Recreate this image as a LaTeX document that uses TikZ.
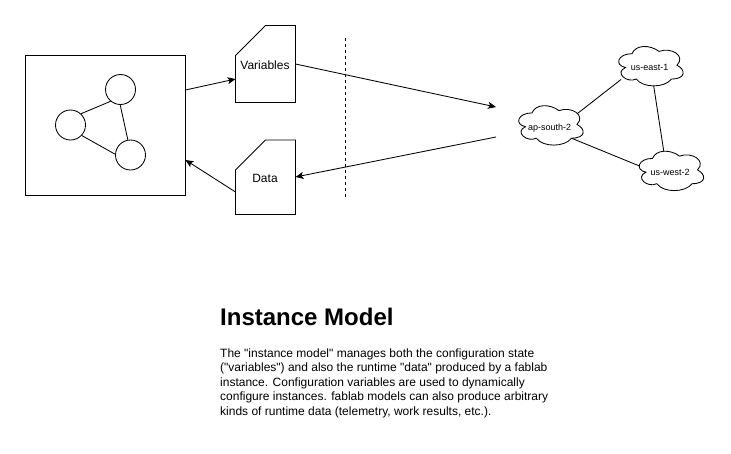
\documentclass[tikz,border=0pt]{standalone}
\usepackage{fontspec}
\setmainfont{Liberation Sans}[Ligatures=TeXOff]
\usetikzlibrary{arrows.meta,calc}
\tikzset{
  link/.style={draw=black,line width=0.85pt},
  flow/.style={link,-{Stealth[length=8pt,width=7pt,inset=2pt]}},
  frame/.style={draw=black,fill=white,line width=0.85pt},
  peer/.style={circle,draw=black,fill=white,line width=0.85pt,minimum size=30pt,inner sep=0pt},
  dochead/.style={font=\fontsize{12}{14}\selectfont,inner sep=0pt},
  cloudlabel/.style={font=\fontsize{9}{11}\selectfont,inner sep=0pt,anchor=base},
}
% \regioncloud{name}{origin x}{origin y}{label x}{label baseline y}{label}
\newcommand{\regioncloud}[6]{%
  \begin{scope}[shift={(#2,#3)},x=72pt,y=-46pt]
    \draw[frame] (-0.25,-0.25)
      .. controls (-0.45,-0.25) and (-0.5,0) .. (-0.34,0.05)
      .. controls (-0.5,0.16) and (-0.32,0.4) .. (-0.19,0.3)
      .. controls (-0.1,0.5) and (0.2,0.5) .. (0.3,0.3)
      .. controls (0.5,0.3) and (0.5,0.1) .. (0.375,0)
      .. controls (0.5,-0.2) and (0.3,-0.4) .. (0.125,-0.3)
      .. controls (0,-0.45) and (-0.2,-0.45) .. (-0.25,-0.25) -- cycle;
  \end{scope}
  \node[cloudlabel] (#1) at (#4,#5) {#6};%
}
\begin{document}
\begin{tikzpicture}[x=1pt,y=-1pt]
\useasboundingbox[fill=white] (0,0) rectangle (731,453);

% instance box
\node[frame,minimum width=160pt,minimum height=140pt,inner sep=0pt] (instance) at (105.5,125) {};
\node[peer] (pa) at (120.5,89.5) {};
\node[peer] (pb) at (70.5,125) {};
\node[peer] (pc) at (130.5,155) {};
\draw[link] (pa.230) -- (pb.47);
\draw[link] (pa.269) -- (pc.100);
\draw[link] (pb.317) -- (pc.177);

% documents
\draw[frame] (265.5,25.5) -- (295.5,25.5) -- (295.5,102.5) -- (235.5,102.5) -- (235.5,55.5) -- cycle;
\node[dochead] (variables) at (265,65) {Variables};
\draw[frame] (265.5,140) -- (295.5,140) -- (295.5,214.5) -- (235.5,214.5) -- (235.5,170) -- cycle;
\node[dochead] (data) at (265,178.5) {Data};
\coordinate (varin) at (235.5,79);
\coordinate (varout) at (295.5,64);
\coordinate (datain) at (295.5,177);
\coordinate (dataout) at (235.5,192);
\coordinate (boxout) at (185.5,90);
\coordinate (boxin) at (185.5,160);
\coordinate (netin) at (496,107);
\coordinate (netout) at (496,137);

% divider
\coordinate (divtop) at (345.5,38);
\coordinate (divbot) at (345.5,198);
\draw[black,line width=0.85pt,dash pattern=on 3pt off 3pt] (divtop) -- (divbot);

% flows
\draw[flow] (boxout) -- (varin);
\draw[flow] (varout) -- (netin);
\draw[flow] (netout) -- (datain);
\draw[flow] (dataout) -- (boxin);

% network
\coordinate (c1) at (551,126);
\coordinate (c2) at (651,66.5);
\coordinate (c3) at (671.5,172);
\draw[link] ($(c1)+(22,-9)$) -- ($(c2)+(-30,13)$);
\draw[link] ($(c2)+(2,15)$) -- ($(c3)+(-7,-16)$);
\draw[link] ($(c1)+(20,12)$) -- ($(c3)+(-32,-6)$);
\regioncloud{aps}{550}{124.4}{549.7}{130.5}{ap-south-2}
\regioncloud{use}{650}{65.2}{649.7}{70}{us-east-1}
\regioncloud{usw}{670.5}{169.9}{670}{175}{us-west-2}

% text
\node[anchor=base west,inner sep=0pt,font=\fontsize{24}{28}\selectfont\bfseries] (title) at (220,325) {Instance Model};
\node[anchor=north west,inner sep=0pt,align=left,font=\fontsize{12}{14.4}\selectfont] (body) at (220,348.5) {The "instance model" manages both the configuration state\\("variables") and also the runtime "data" produced by a fablab\\instance. Configuration variables are used to dynamically\\configure instances. fablab models can also produce arbitrary\\kinds of runtime data (telemetry, work results, etc.).};
\end{tikzpicture}
\end{document}
